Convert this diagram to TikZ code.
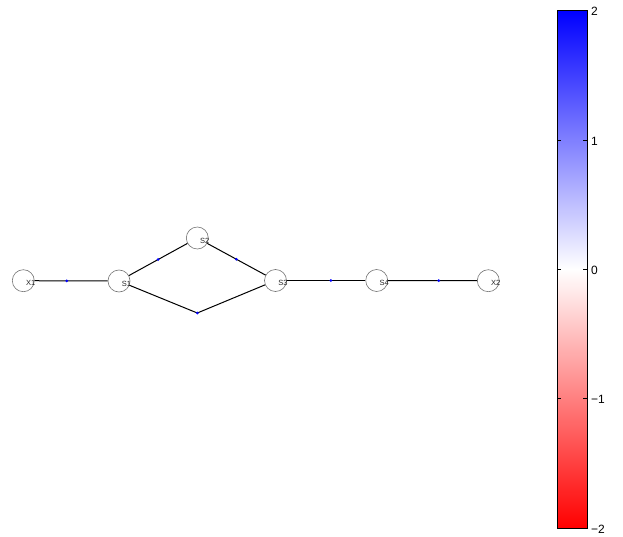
\documentclass[tikz,border=0pt]{standalone}
\usepackage{fontspec}
\setmainfont{Liberation Sans}
\begin{document}
\begin{tikzpicture}[x=1pt,y=-1pt,
  st/.style={circle,draw=black!55,line width=0.6pt,minimum size=22pt,inner sep=0pt},
  lab/.style={font=\fontsize{7.5}{8}\selectfont,inner sep=0pt,text=black!85},
  dot/.style={circle,fill=blue,inner sep=0pt,minimum size=3pt},
  edge/.style={draw=black,line width=1pt},
  tick/.style={draw=black,line width=0.8pt},
  tlab/.style={font=\fontsize{12}{13}\selectfont,anchor=west,inner sep=0pt}]
\useasboundingbox (0,0) rectangle (623,537);
% nodes
\node[st] (X1) at (23.3,280.7) {};
\node[st] (S1) at (119,281) {};
\node[st] (S2) at (197.3,238) {};
\node[st] (S3) at (275.5,280.5) {};
\node[st] (S4) at (376.7,280.5) {};
\node[st] (X2) at (488.3,280.7) {};
\node[lab] (lX1) at ([shift={(7.5,2.5)}]X1.center) {X1};
\node[lab] (lS1) at ([shift={(7.5,2.5)}]S1.center) {S1};
\node[lab] (lS2) at ([shift={(7.5,2.5)}]S2.center) {S2};
\node[lab] (lS3) at ([shift={(7.5,2.5)}]S3.center) {S3};
\node[lab] (lS4) at ([shift={(7.5,2.5)}]S4.center) {S4};
\node[lab] (lX2) at ([shift={(7.5,2.5)}]X2.center) {X2};
\coordinate (B) at (197.3,313);
% edges
\draw[edge] (X1) -- node[dot,pos=0.44]{} (S1);
\draw[edge] (S1) -- node[dot,pos=0.5]{} (S2);
\draw[edge] (S2) -- node[dot,pos=0.5]{} (S3);
\draw[edge] (S1) -- (B) -- (S3);
\node[dot] (Bdot) at (B) {};
\draw[edge] (S3) -- node[dot,pos=0.56]{} (S4);
\draw[edge] (S4) -- node[dot,pos=0.57]{} (X2);
% colorbar
\shade[top color=white,bottom color=red] (557,269.3) rectangle (587,528);
\shade[top color=blue,bottom color=white] (557,10.7) rectangle (587,269.3);
\draw[line width=1pt] (557,10.7) rectangle (587,528);
\foreach \v/\y/\t in {2/10.7/2, 1/140/1, 0/269.3/0, -1/398.6/−1, -2/528/−2}{
  \draw[tick] (557,\y) -- (561,\y);
  \draw[tick] (587,\y) -- (583,\y);
  \node[tlab] at (591,\y+1) {\t};
}
\end{tikzpicture}
\end{document}
